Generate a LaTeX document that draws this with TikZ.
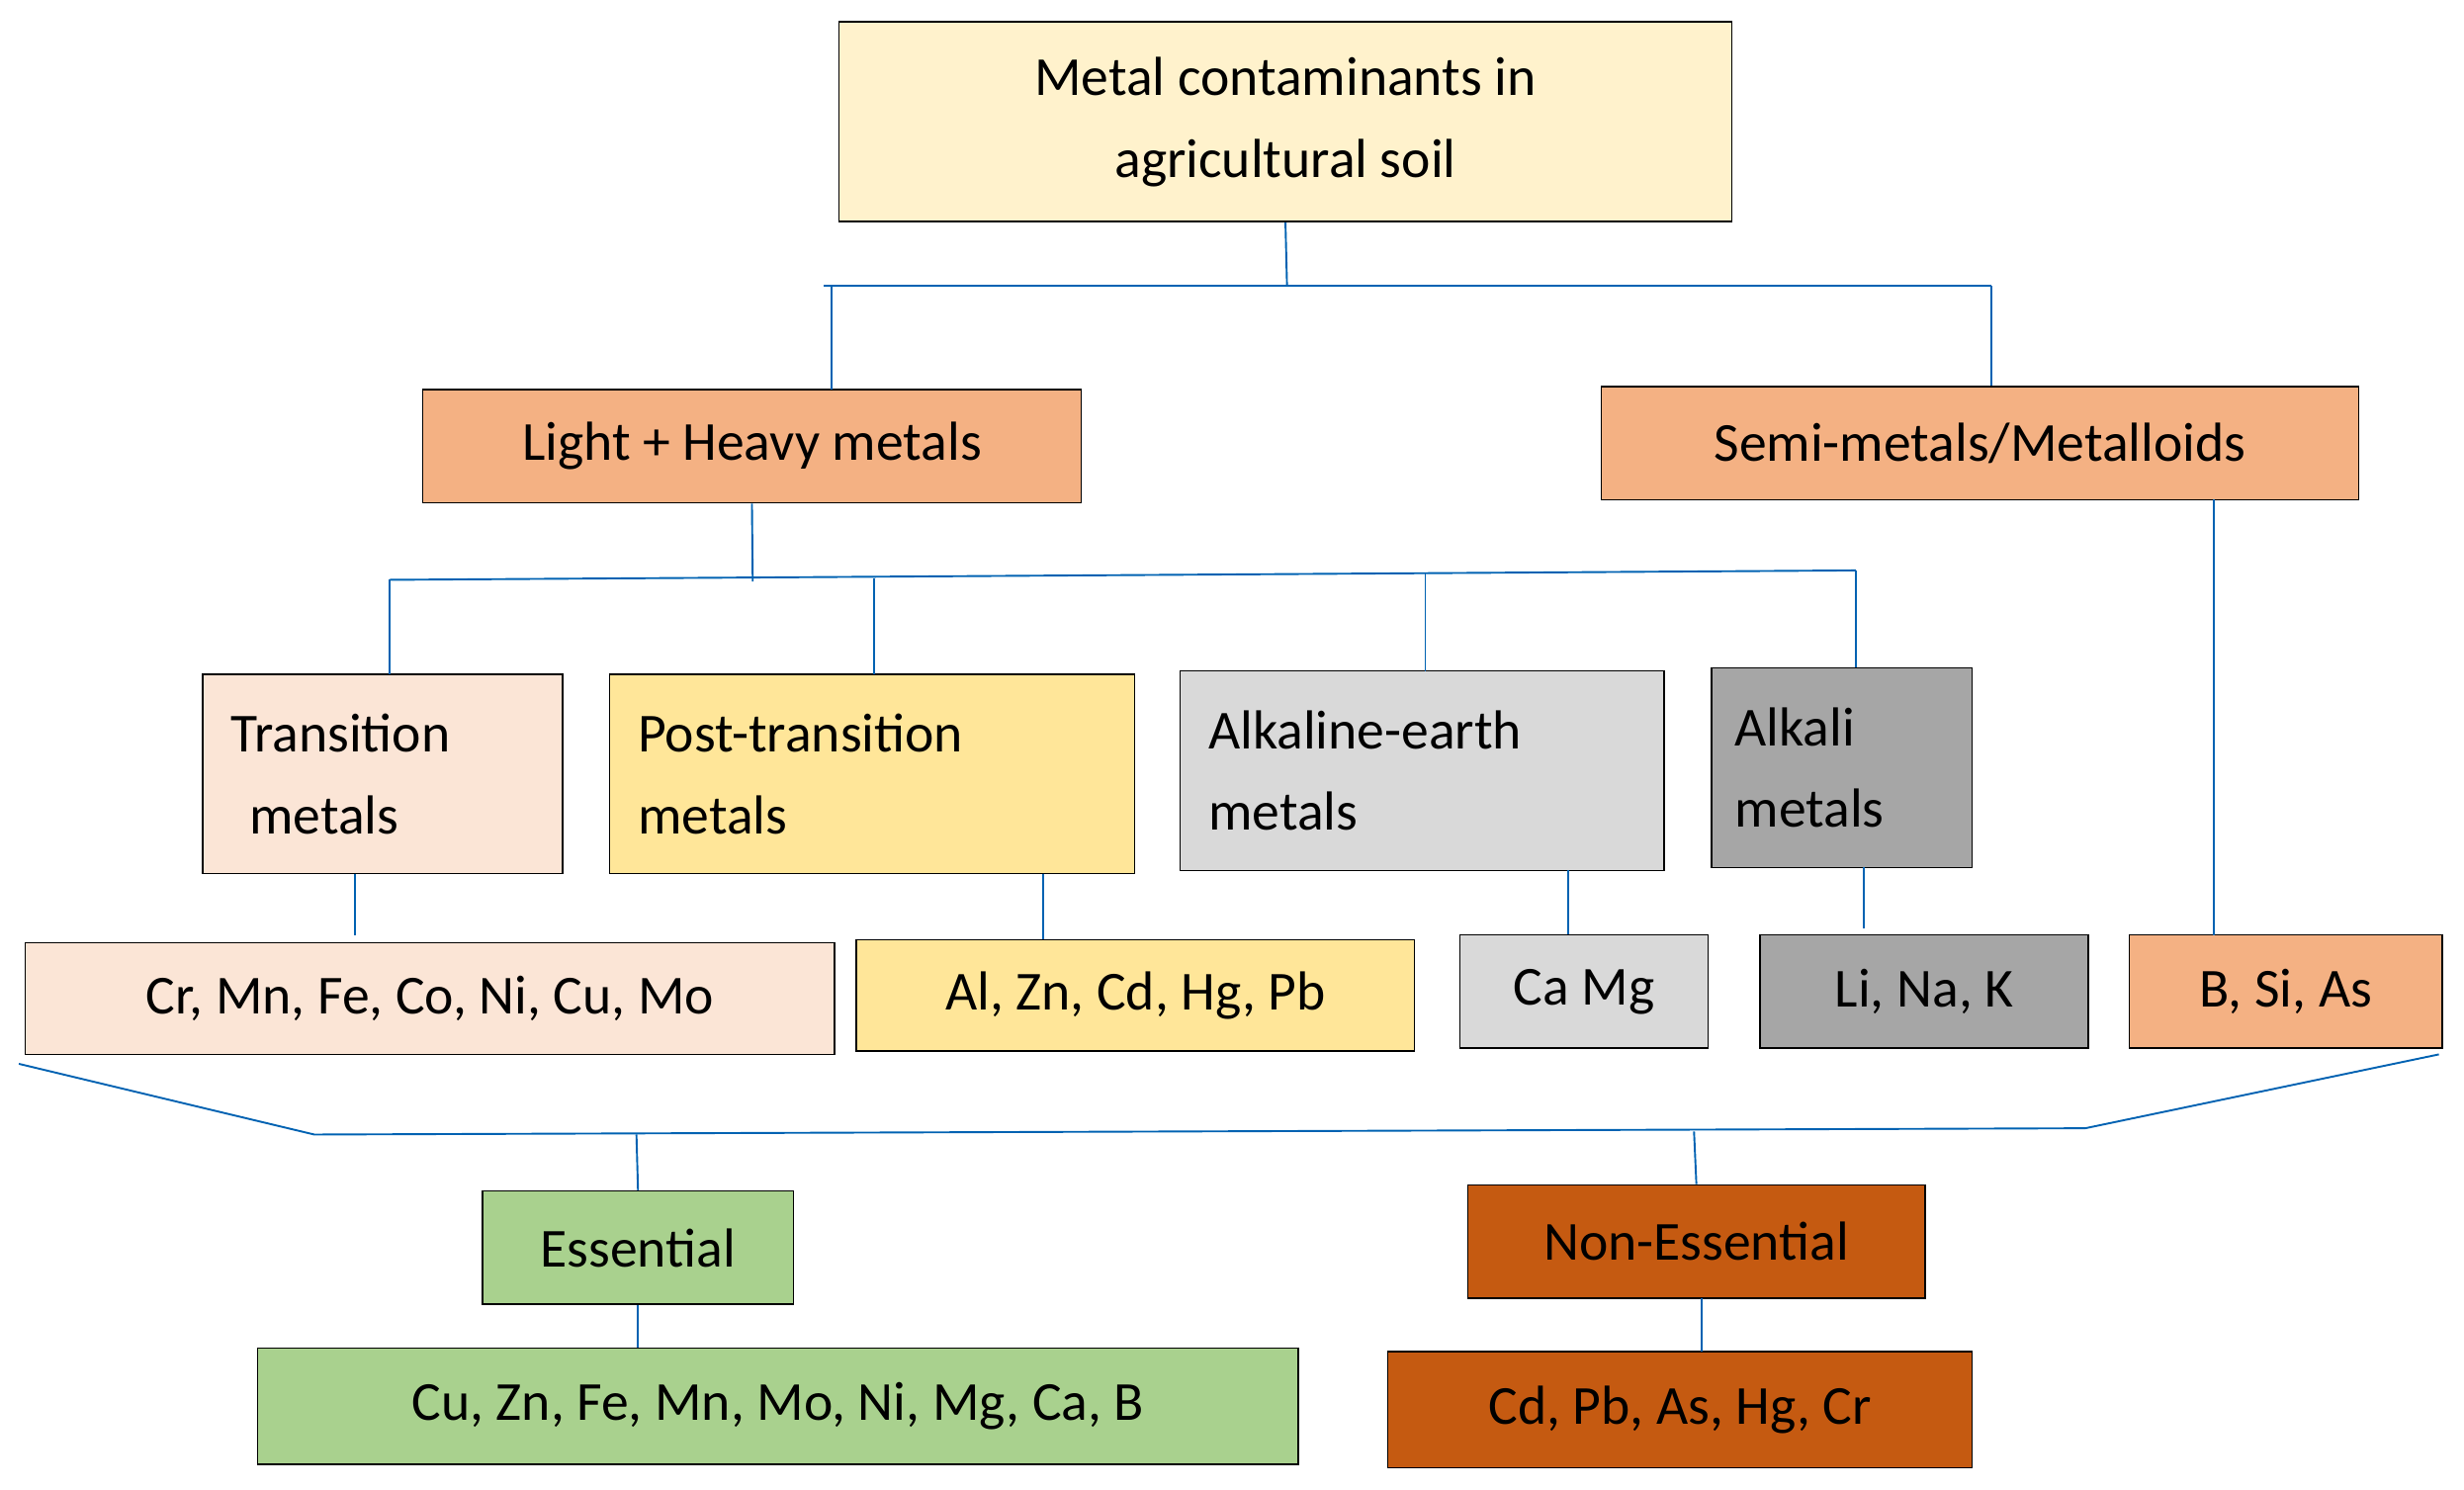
\documentclass[tikz,border=0pt]{standalone}
\usepackage{fontspec}
\setmainfont{Carlito}
\begin{document}
\begin{tikzpicture}[x=1pt,y=-1pt,
  box/.style={draw=black,line width=1pt,inner sep=0pt,font=\fontsize{35}{52}\selectfont},
  ln/.style={draw=blue!45!cyan!70!black,line width=1.2pt}]
\useasboundingbox (0,0) rectangle (1568,948);
\definecolor{cTop}{HTML}{FFF2CC}\definecolor{cOr}{HTML}{F4B183}
\definecolor{cTr}{HTML}{FBE5D6}\definecolor{cPo}{HTML}{FFE699}
\definecolor{cAe}{HTML}{D9D9D9}\definecolor{cAk}{HTML}{A6A6A6}
\definecolor{cEs}{HTML}{A9D18E}\definecolor{cNe}{HTML}{C55A11}
\newcommand{\bx}[7]{\node[box,fill=#6,minimum width={#3-#1},minimum height={#4-#2},align=#7,text width={#3-#1-36}] (#5) at ({(#1+#3)/2},{(#2+#4)/2}) {};}
\node[box,fill=cTop,minimum width=568,minimum height=127,align=center] (top) at (818,77.5) {Metal contaminants in\\agricultural soil};
\node[box,fill=cOr,minimum width=419,minimum height=72] (lh) at (478.5,284) {Light + Heavy metals};
\node[box,fill=cOr,minimum width=482,minimum height=72] (sm) at (1260,282) {Semi-metals/Metalloids};
\node[box,fill=cTr,minimum width=229,minimum height=127,align=left,text width=193] (tr) at (243.5,492.5) {Transition\\\ metals};
\node[box,fill=cPo,minimum width=334,minimum height=127,align=left,text width=298] (po) at (555,492.5) {Post-transition\\metals};
\node[box,fill=cAe,minimum width=308,minimum height=127,align=left,text width=272] (ae) at (905,490.5) {Alkaline-earth\\metals};
\node[box,fill=cAk,minimum width=166,minimum height=127,align=left,text width=136] (ak) at (1172,488.5) {Alkali\\metals};
\node[box,fill=cTr,minimum width=515,minimum height=71] (l1) at (273.5,635.5) {Cr, Mn, Fe, Co, Ni, Cu, Mo};
\node[box,fill=cPo,minimum width=355,minimum height=71] (l2) at (722.5,633.5) {Al, Zn, Cd, Hg, Pb};
\node[box,fill=cAe,minimum width=158,minimum height=72] (l3) at (1008,631) {Ca Mg};
\node[box,fill=cAk,minimum width=209,minimum height=72] (l4) at (1224.5,631) {Li, Na, K};
\node[box,fill=cOr,minimum width=199,minimum height=72] (l5) at (1454.5,631) {B, Si, As};
\node[box,fill=cEs,minimum width=198,minimum height=72] (es) at (406,794) {Essential};
\node[box,fill=cNe,minimum width=291,minimum height=72] (ne) at (1079.5,790) {Non-Essential};
\node[box,fill=cEs,minimum width=662,minimum height=74] (el) at (495,895) {Cu, Zn, Fe, Mn, Mo, Ni, Mg, Ca, B};
\node[box,fill=cNe,minimum width=372,minimum height=74] (nl) at (1069,897) {Cd, Pb, As, Hg, Cr};
% connectors
\coordinate (j1) at (819,182);
\draw[ln] (top.south) -- (j1);
\draw[ln] (524,182) -- (1267,182);
\draw[ln] (529,182) -- (529,248);
\draw[ln] (1267,182) -- (sm.north -| 1267,0);
\coordinate (j2) at (479,370);
\draw[ln] (lh.south) -- (j2);
\draw[ln] (248,369) -- (1181,363);
\draw[ln] (248,369) -- (248,429);
\draw[ln] (556,368) -- (556,429);
\draw[ln] (907,365) -- (907,427);
\draw[ln] (1181,363) -- (1181,425);
\draw[ln] (226,556) -- (226,595);
\draw[ln] (664,556) -- (664,598);
\draw[ln] (998,554) -- (l3.north -| 998,0);
\draw[ln] (1186,552) -- (1186,591);
\draw[ln] (1409,318) -- (1409,595);
\draw[ln] (12,677) -- (200,722) -- (1327,718) -- (1552,671);
\draw[ln] (405,722) -- (es.north);
\draw[ln] (1078,720) -- (ne.north);
\draw[ln] (es.south) -- (el.north -| es.south);
\draw[ln] (1083,826) -- (1083,860);
\end{tikzpicture}
\end{document}
